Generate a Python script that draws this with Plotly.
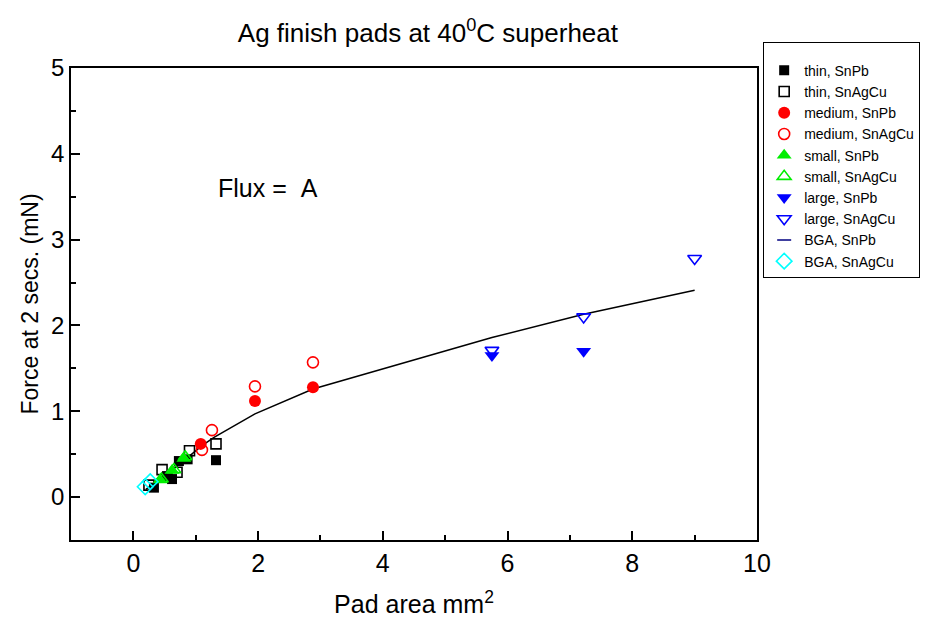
import plotly.graph_objects as go

# ---- data ----
thin_snpb_x = [0.33, 0.54, 0.62, 0.73, 0.87, 1.325]
thin_snpb_y = [0.11, 0.245, 0.21, 0.42, 0.44, 0.43]
thin_snagcu_x = [0.25, 0.46, 0.70, 0.90, 1.325]
thin_snagcu_y = [0.14, 0.32, 0.29, 0.54, 0.62]
medium_snpb_x = [1.08, 1.95, 2.88]
medium_snpb_y = [0.62, 1.12, 1.28]
medium_snagcu_x = [1.10, 1.26, 1.95, 2.88]
medium_snagcu_y = [0.55, 0.78, 1.29, 1.57]
small_snpb_x = [0.43, 0.62, 0.81]
small_snpb_y = [0.20, 0.31, 0.45]
small_snagcu_x = [0.45, 0.65, 0.83]
small_snagcu_y = [0.21, 0.32, 0.47]
large_snpb_x = [5.75, 7.22]
large_snpb_y = [1.65, 1.70]
large_snagcu_x = [5.75, 7.22, 9.0]
large_snagcu_y = [1.71, 2.10, 2.78]
bga_snpb_x = [0.2, 0.45, 0.65, 0.85, 1.1, 1.3, 1.95, 2.88, 5.75, 7.22, 9.0]
bga_snpb_y = [0.09, 0.22, 0.33, 0.45, 0.60, 0.70, 0.97, 1.26, 1.86, 2.13, 2.41]
bga_snagcu_x = [0.19, 0.27]
bga_snagcu_y = [0.12, 0.18]

FONT = "Arial, Liberation Sans, sans-serif"

fig = go.Figure()

# line drawn first (behind markers)
fig.add_trace(go.Scatter(x=bga_snpb_x, y=bga_snpb_y, mode="lines",
                         line=dict(color="black", width=1.5), showlegend=False,
                         hoverinfo="skip"))

def mk(x, y, name, symbol, color, size, filled=True):
    fig.add_trace(go.Scatter(
        x=x, y=y, mode="markers", name=name,
        marker=dict(symbol=symbol, size=size, color=color,
                    line=dict(color=color, width=0 if filled else 1.6))))

mk(thin_snpb_x, thin_snpb_y, "thin, SnPb", "square", "black", 10)
mk(thin_snagcu_x, thin_snagcu_y, "thin, SnAgCu", "square-open", "black", 10, False)
mk(medium_snpb_x, medium_snpb_y, "medium, SnPb", "circle", "red", 12)
mk(medium_snagcu_x, medium_snagcu_y, "medium, SnAgCu", "circle-open", "red", 11, False)
mk(small_snpb_x, small_snpb_y, "small, SnPb", "triangle-up", "#00ee00", 13)
mk(small_snagcu_x, small_snagcu_y, "small, SnAgCu", "triangle-up-open", "#00ee00", 12, False)
mk(large_snpb_x, large_snpb_y, "large, SnPb", "triangle-down", "blue", 13)
mk(large_snagcu_x, large_snagcu_y, "large, SnAgCu", "triangle-down-open", "blue", 12, False)
# legend entry for the BGA SnPb line (short dash symbol)
fig.add_trace(go.Scatter(x=[None], y=[None], mode="markers", name="BGA, SnPb",
                         marker=dict(symbol="line-ew-open", size=10, color="#000080",
                                     line=dict(color="#000080", width=1.5))))
mk(bga_snagcu_x, bga_snagcu_y, "BGA, SnAgCu", "diamond-open", "cyan", 12, False)

fig.add_annotation(x=2.16, y=3.6, text="Flux = &nbsp;A", showarrow=False,
                   font=dict(family=FONT, size=25, color="black"))

fig.update_layout(
    width=927, height=619,
    margin=dict(l=63, r=178, t=60, b=87),
    paper_bgcolor="white", plot_bgcolor="white",
    font=dict(family=FONT, color="black"),
    title=dict(text="Ag finish pads at 40<sup>0</sup>C superheat",
               x=0.453, xanchor="center", y=0.96, yanchor="middle",
               font=dict(family=FONT, size=26)),
    legend=dict(x=1.009, xanchor="left", y=1.055, yanchor="top",
                bordercolor="black", borderwidth=1, bgcolor="white",
                font=dict(family=FONT, size=14), itemwidth=30,
                tracegroupgap=0,
                title=dict(text="&nbsp;", font=dict(size=9))),
    showlegend=True,
)
fig.update_xaxes(range=[-1, 10], tickvals=[0, 2, 4, 6, 8, 10],
                 ticks="inside", ticklen=9, tickwidth=1.5, tickcolor="black",
                 minor=dict(ticks="inside", ticklen=5, tickwidth=1.5,
                            tickcolor="black", dtick=1, tick0=0),
                 showline=True, linecolor="black", linewidth=1.5, mirror=True,
                 showgrid=False, zeroline=False, automargin=False,
                 tickfont=dict(family=FONT, size=25),
                 title=dict(text="Pad area mm<sup>2</sup>",
                            font=dict(family=FONT, size=25), standoff=20))
fig.update_yaxes(range=[-0.5, 5], tickvals=[0, 1, 2, 3, 4, 5],
                 ticks="inside", ticklen=9, tickwidth=1.5, tickcolor="black",
                 minor=dict(ticks="inside", ticklen=5, tickwidth=1.5,
                            tickcolor="black", dtick=0.5, tick0=0),
                 showline=True, linecolor="black", linewidth=1.5, mirror=True,
                 showgrid=False, zeroline=False, automargin=False,
                 tickfont=dict(family=FONT, size=24),
                 title=dict(text="Force at 2 secs. (mN)",
                            font=dict(family=FONT, size=23), standoff=6))

fig.write_html("out.html")
